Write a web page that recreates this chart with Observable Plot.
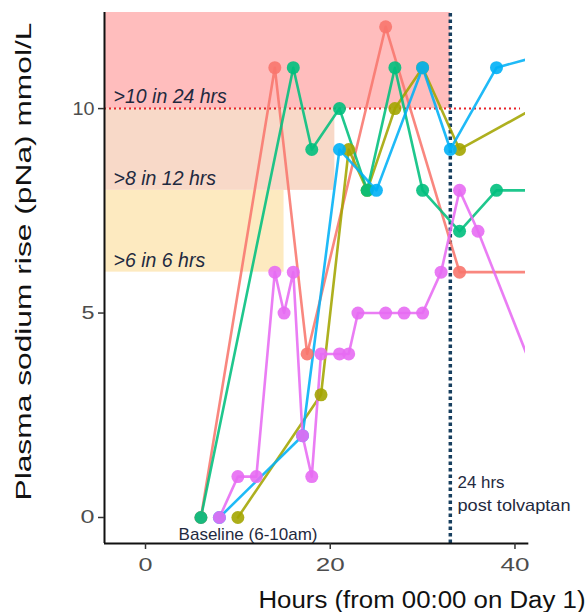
<!DOCTYPE html>
<html><head><meta charset="utf-8">
<script src="https://cdn.jsdelivr.net/npm/d3@7"></script>
<script src="https://cdn.jsdelivr.net/npm/@observablehq/plot@0.6"></script>
<style>
body{margin:0;background:#fff;}
#chart svg{display:block;}
</style></head><body><div id="chart"></div>
<script>
// ---- data ----
const patients = ["P1", "P2", "P3", "P4", "P5"];
const hoursP1 = [6, 14, 17.5, 26, 34, 44];
const naP1    = [0, 11, 4, 12, 6, 6];
const hoursP2 = [10, 19, 22, 24, 27, 30, 34, 42];
const naP2    = [0, 3, 9, 8, 10, 11, 9, 10];
const hoursP3 = [6, 16, 18, 21, 24, 27, 30, 34, 38, 44];
const naP3    = [0, 11, 9, 10, 8, 11, 8, 7, 8, 8];
const hoursP4 = [8, 17, 21, 25, 30, 33, 38, 42];
const naP4    = [0, 2, 9, 8, 11, 9, 11, 11.25];
const hoursP5 = [8, 10, 12, 14, 15, 16, 17, 18, 19, 21, 22, 23, 26, 28, 30, 32, 34, 36, 43];
const naP5    = [0, 1, 1, 6, 5, 6, 2, 1, 4, 4, 4, 5, 5, 5, 5, 6, 8, 7, 3];

const zoneLabels = [">10 in 24 hrs", ">8 in 12 hrs", ">6 in 6 hrs"];
const zoneLow    = [10, 8, 6];
const zoneHigh   = [12.35, 10, 8];
const zoneEndHr  = [33, 20.5, 15];
const limitLine  = 10;
const tolvaptanHr = 33;
const xTicks = [0, 20, 40];
const yTicks = [0, 5, 10];
const yTitle = "Plasma sodium rise (pNa) mmol/L";
const xTitle = "Hours (from 00:00 on Day 1)";
const baselineLabel = "Baseline (6-10am)";
const tolvLabel = ["24 hrs", "post tolvaptan"];

// ---- build table ----
const hoursAll = [hoursP1, hoursP2, hoursP3, hoursP4, hoursP5];
const naAll = [naP1, naP2, naP3, naP4, naP5];
const rows = [];
patients.forEach((p, i) => hoursAll[i].forEach((h, j) => rows.push({patient: p, hour: h, na: naAll[i][j]})));

// ---- style ----
const palette = ["#F8766D", "#A3A500", "#00BF7D", "#00B0F6", "#E76BF3"];
const zoneFills = ["#ffbdbd", "#f8d9c8", "#fdeac0"];
const xMin = -4.44, xMax = 41.14, yMin = -0.636, yMax = 12.35;
const ink = "#1f2a40";

const zoneMarks = zoneLabels.map((lab, i) =>
  Plot.rect([i], {x1: () => xMin, x2: () => zoneEndHr[i], y1: () => zoneLow[i], y2: () => zoneHigh[i], fill: zoneFills[i]}));

const chart = Plot.plot({
  width: 588, height: 612,
  marginLeft: 104, marginRight: 63, marginTop: 12, marginBottom: 69,
  style: {fontFamily: "'Liberation Sans', Arial, sans-serif", background: "white"},
  x: {domain: [xMin, xMax]},
  y: {domain: [yMin, yMax]},
  color: {domain: patients, range: palette},
  marks: [
    ...zoneMarks,
    Plot.ruleY([limitLine], {x1: xMin, x2: 40.6, stroke: "#e8222a", strokeWidth: 2, strokeDasharray: "2,3"}),
    Plot.ruleX([tolvaptanHr], {y1: yMin, y2: yMax, stroke: "#173f5f", strokeWidth: 3.5, strokeDasharray: "3.5,3"}),
    Plot.text(zoneLabels, {x: () => -3.46, y: (d, i) => zoneLow[i] + 0.13, text: d => d, textAnchor: "start", lineAnchor: "bottom", fontSize: 19.5, fontStyle: "italic", fill: ink}),
    Plot.line(rows, {x: "hour", y: "na", z: "patient", stroke: "patient", strokeWidth: 2.6, strokeOpacity: 0.88, clip: true}),
    Plot.dot(rows, {x: "hour", y: "na", fill: "patient", r: 6.5, fillOpacity: 0.9, clip: true}),
    Plot.text([baselineLabel], {x: () => 11.1, y: () => -0.54, text: d => d, textAnchor: "middle", lineAnchor: "bottom", fontSize: 17, fill: ink}),
    Plot.text(tolvLabel, {x: () => 33.78, y: (d, i) => i === 0 ? 0.733 : 0.171, text: d => d, textAnchor: "start", lineAnchor: "bottom", fontSize: 16.5, fill: ink}),
    Plot.ruleY([yMin], {x1: xMin, x2: 41.5, stroke: "#111", strokeWidth: 2}),
    Plot.ruleX([xMin], {y1: yMin, y2: yMax, stroke: "#111", strokeWidth: 2}),
    Plot.axisX(xTicks, {tickSize: 6, tickPadding: 8, fontSize: 18.5, fill: "#4d4d4d", stroke: "#333", strokeWidth: 1.5, label: null}),
    Plot.axisY(yTicks, {tickSize: 6, tickPadding: 4, fontSize: 18.5, fill: "#4d4d4d", stroke: "#333", strokeWidth: 1.5, label: null}),
    Plot.text([yTitle], {x: () => -12.4, y: () => 6.26, text: d => d, rotate: -90, textAnchor: "middle", lineAnchor: "bottom", fontSize: 22, fill: "#111"}),
    Plot.text([xTitle], {x: () => 12.23, y: () => -2.22, text: d => d, textAnchor: "start", lineAnchor: "bottom", fontSize: 23, fill: "#111"})
  ]
});
document.getElementById("chart").appendChild(chart);

// stretch some texts horizontally to match the reference proportions
const widths = {[yTitle]: 478, [xTitle]: 327, "0": 14, "5": 13, "10": 22, "20": 29, "40": 29, "post tolvaptan": 113, "24 hrs": 47};
chart.querySelectorAll("text").forEach(t => {
  const s = t.textContent;
  if (widths[s] !== undefined) {
    t.setAttribute("textLength", widths[s]);
    t.setAttribute("lengthAdjust", "spacingAndGlyphs");
  }
});
</script>
</body></html>
